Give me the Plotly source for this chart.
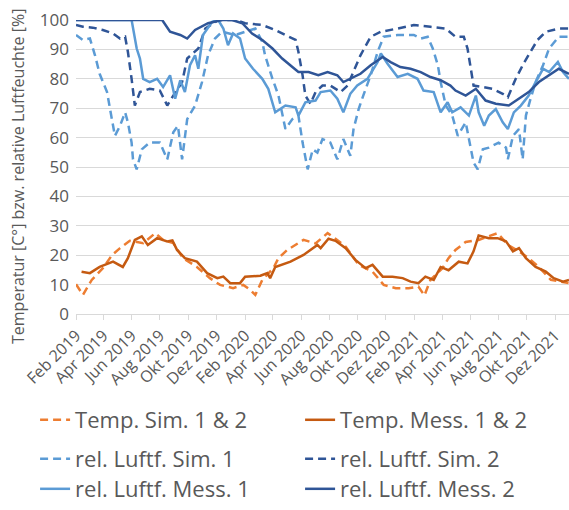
import plotly.graph_objects as go

# ---------------- data ----------------
temp_mess_dates = ["2019-02-13","2019-03-03","2019-03-24","2019-04-22","2019-05-13","2019-05-24","2019-06-08","2019-06-23",
    "2019-07-06","2019-07-26","2019-08-17","2019-08-28","2019-09-07","2019-09-24","2019-10-20","2019-11-11","2019-12-03",
    "2019-12-16","2019-12-31","2020-01-21","2020-02-01","2020-03-05","2020-03-20","2020-03-26","2020-04-06","2020-05-09",
    "2020-06-06","2020-07-06","2020-07-13","2020-07-30","2020-08-14","2020-09-05","2020-09-26","2020-10-18","2020-11-02",
    "2020-11-24","2020-12-15","2021-01-06","2021-01-23","2021-02-09","2021-02-24","2021-03-14","2021-03-29","2021-04-15",
    "2021-05-07","2021-05-26","2021-06-08","2021-06-19","2021-07-11","2021-07-30","2021-08-17","2021-09-01","2021-09-14",
    "2021-09-29","2021-10-20","2021-11-11","2021-11-28","2021-12-18","2021-12-31"]
temp_mess = [14.4,13.9,16.0,17.8,16.0,19.0,25.2,26.4,23.5,25.8,24.7,25.0,21.8,19.0,17.8,13.9,12.2,12.7,10.5,10.5,12.7,13.0,
    13.9,12.2,16.0,17.8,20.1,23.5,22.4,25.6,24.9,22.4,18.4,15.6,16.7,12.7,12.7,12.2,11.0,10.5,12.7,11.6,16.0,14.9,17.8,
    17.2,21.3,26.7,25.8,25.8,24.7,21.3,22.4,19.0,16.0,14.4,12.2,11.0,11.6]

temp_sim_dates = ["2019-02-01","2019-02-16","2019-03-07","2019-03-31","2019-04-20","2019-05-07","2019-05-28","2019-06-26",
    "2019-07-22","2019-08-08","2019-08-30","2019-09-20","2019-10-20","2019-11-17","2019-12-09","2020-01-06","2020-01-28",
    "2020-02-12","2020-02-23","2020-03-09","2020-04-02","2020-04-13","2020-05-02","2020-06-06","2020-07-02","2020-07-28",
    "2020-08-14","2020-09-05","2020-10-03","2020-11-02","2020-11-26","2020-12-22","2021-01-19","2021-02-09","2021-02-22",
    "2021-03-07","2021-04-02","2021-04-15","2021-04-30","2021-05-22","2021-06-19","2021-07-11","2021-07-30","2021-08-21",
    "2021-09-14","2021-10-05","2021-10-27","2021-11-22","2021-12-14","2021-12-30"]
temp_sim = [10.1,6.5,11.6,15.6,20.1,22.4,24.9,24.1,27.5,25.2,24.1,19.0,16.0,12.2,9.9,8.8,9.9,8.2,6.5,11.6,15.6,19.0,21.8,
    25.2,24.0,27.5,25.6,22.9,16.7,14.4,9.9,8.8,8.8,9.3,6.3,11.6,15.6,19.0,21.8,24.5,25.2,26.4,27.5,23.5,21.3,19.0,16.0,
    11.6,11.0,10.5]

rh_sim1_dates = ["2019-02-01","2019-02-16","2019-03-03","2019-03-14","2019-03-24","2019-04-09","2019-04-18","2019-04-26",
    "2019-05-07","2019-05-18","2019-05-24","2019-06-01","2019-06-04","2019-06-12","2019-06-23","2019-07-10","2019-08-01",
    "2019-08-17","2019-08-30","2019-09-09","2019-09-18","2019-09-29","2019-10-16","2019-10-31","2019-11-13","2019-11-28",
    "2019-12-13","2020-01-11","2020-02-01","2020-02-23","2020-03-09","2020-03-15","2020-03-31","2020-04-13","2020-04-28",
    "2020-05-13","2020-05-26","2020-06-04","2020-06-15","2020-06-26","2020-07-06","2020-07-17","2020-08-03","2020-08-18",
    "2020-08-31","2020-09-15","2020-09-22","2020-10-03","2020-10-13","2020-10-29","2020-11-13","2020-11-26","2020-12-26",
    "2021-01-30","2021-02-14","2021-03-01","2021-03-12","2021-03-23","2021-03-29","2021-04-09","2021-04-23","2021-05-05",
    "2021-05-22","2021-06-02","2021-06-08","2021-06-17","2021-06-28","2021-07-11","2021-08-01","2021-08-17","2021-08-21",
    "2021-09-01","2021-09-14","2021-09-22","2021-09-29","2021-10-09","2021-10-20","2021-11-05","2021-11-18","2021-12-09",
    "2021-12-31"]
rh_sim1 = [94.9,93.2,93.7,88.0,81.7,75.5,67.5,60.6,64.0,68.6,65.2,58.3,52.6,49.2,56.0,58.3,58.3,52.6,61.8,64.0,52.6,66.3,
    70.9,78.9,88.0,93.7,96.0,94.9,96.0,97.1,92.6,88.0,80.0,74.3,62.9,66.3,67.5,58.3,49.2,56.0,54.9,59.5,58.3,52.6,59.5,
    53.8,62.9,69.7,74.3,81.2,89.2,94.3,94.9,94.9,93.7,94.3,90.3,84.6,78.9,70.9,67.5,60.6,65.2,56.0,51.5,49.2,56.0,56.6,
    58.3,56.6,52.6,60.6,62.9,52.6,67.5,73.2,78.9,84.6,90.3,94.3,94.3]

rh_sim2_dates = ["2019-02-01","2019-02-16","2019-03-09","2019-03-31","2019-04-22","2019-05-07","2019-05-18","2019-05-24",
    "2019-06-01","2019-06-08","2019-06-19","2019-07-10","2019-08-01","2019-08-17","2019-08-30","2019-09-18","2019-09-29",
    "2019-10-12","2019-10-23","2019-11-07","2019-12-05","2020-01-11","2020-02-01","2020-03-09","2020-04-06","2020-05-05",
    "2020-05-20","2020-05-26","2020-06-04","2020-06-10","2020-06-21","2020-07-02","2020-07-17","2020-08-03","2020-08-25",
    "2020-09-09","2020-09-22","2020-10-07","2020-10-29","2020-11-20","2020-12-26","2021-01-30","2021-03-07","2021-04-09",
    "2021-04-30","2021-05-18","2021-05-26","2021-06-02","2021-06-08","2021-06-28","2021-07-19","2021-08-10","2021-08-21",
    "2021-09-07","2021-09-24","2021-10-09","2021-10-24","2021-11-11","2021-12-09","2021-12-31"]
rh_sim2 = [98.3,97.7,97.4,96.6,95.4,93.7,94.3,89.2,80.0,70.9,75.5,76.6,76.0,70.9,74.3,78.9,86.9,88.6,90.3,97.1,100,100,
    98.9,98.3,96.6,94.3,93.2,89.2,81.2,74.3,71.5,75.5,77.7,77.7,75.5,77.7,82.3,88.0,94.3,96.0,97.1,98.3,97.7,97.1,94.3,
    94.3,90.3,83.4,77.7,77.2,76.6,74.9,73.7,80.0,85.2,89.2,93.2,96.0,97.1,97.1]

rh_mess1_dates = ["2019-02-01","2019-06-01","2019-06-12","2019-06-19","2019-06-26","2019-07-10","2019-07-26","2019-08-08",
    "2019-08-23","2019-09-03","2019-09-14","2019-09-24","2019-10-05","2019-10-16","2019-10-23","2019-11-02","2019-11-22",
    "2019-12-05","2019-12-16","2019-12-26","2020-01-06","2020-01-21","2020-02-01","2020-02-18","2020-03-09","2020-03-22",
    "2020-04-06","2020-04-28","2020-05-20","2020-05-26","2020-06-10","2020-07-02","2020-07-13","2020-08-03","2020-08-18",
    "2020-08-31","2020-09-15","2020-09-30","2020-10-22","2020-11-13","2020-11-20","2020-12-04","2020-12-26","2021-01-17",
    "2021-02-07","2021-02-20","2021-03-14","2021-03-29","2021-04-13","2021-04-23","2021-05-11","2021-05-29","2021-06-13",
    "2021-06-19","2021-07-01","2021-07-11","2021-07-26","2021-08-10","2021-08-21","2021-09-03","2021-09-18","2021-10-05",
    "2021-10-20","2021-11-05","2021-11-18","2021-12-07","2021-12-18","2021-12-31"]
rh_mess1 = [100,100,90.3,86.9,80.0,78.9,80.0,77.2,81.2,73.2,79.5,75.5,84.6,88.0,83.4,94.9,99.4,100,97.1,91.4,95.4,93.7,
    86.9,83.4,80.0,76.6,68.6,70.9,70.3,67.5,72.0,72.6,75.5,76.0,73.2,68.6,74.9,77.7,80.0,85.7,88.6,85.2,80.6,81.7,80.0,
    76.0,75.5,68.6,72.0,68.6,70.3,67.5,74.3,68.6,64.0,67.5,69.7,65.2,62.9,68.6,70.9,74.3,78.9,83.4,82.3,85.7,82.3,80.0]

rh_mess2_dates = ["2019-02-01","2019-08-06","2019-08-23","2019-09-14","2019-09-29","2019-10-16","2019-11-13","2019-12-13",
    "2020-01-04","2020-01-26","2020-02-16","2020-03-09","2020-03-31","2020-04-21","2020-05-13","2020-05-26","2020-06-17",
    "2020-07-08","2020-07-28","2020-08-18","2020-08-31","2020-09-15","2020-10-07","2020-10-29","2020-11-24","2020-12-11",
    "2021-01-01","2021-01-23","2021-02-14","2021-03-07","2021-03-29","2021-04-19","2021-04-30","2021-05-22","2021-06-13",
    "2021-07-04","2021-07-26","2021-08-23","2021-09-14","2021-10-05","2021-10-27","2021-11-18","2021-12-09","2021-12-31"]
rh_mess2 = [100,100,96.0,94.9,93.7,96.6,98.9,100,100,98.9,95.4,93.2,90.3,86.9,84.0,82.3,82.3,81.2,82.3,81.2,78.9,80.0,
    81.7,84.6,87.4,85.7,84.0,83.4,82.3,80.6,79.5,77.7,76.0,74.3,76.6,72.6,71.5,70.9,73.2,75.5,78.9,81.2,83.4,81.7]

tick_dates = ["2019-02-01","2019-04-01","2019-06-01","2019-08-01","2019-10-01","2019-12-01",
              "2020-02-01","2020-04-01","2020-06-01","2020-08-01","2020-10-01","2020-12-01",
              "2021-02-01","2021-04-01","2021-06-01","2021-08-01","2021-10-01","2021-12-01"]
tick_labels = ["Feb 2019","Apr 2019","Jun 2019","Aug 2019","Okt 2019","Dez 2019",
               "Feb 2020","Apr 2020","Jun 2020","Aug 2020","Okt 2020","Dez 2020",
               "Feb 2021","Apr 2021","Jun 2021","Aug 2021","Okt 2021","Dez 2021"]

# ---------------- figure ----------------
FONT = "Open Sans"
GREY = "#595959"
DASH = "8px,5px"
LW = 2.5

series = [
    ("Temp. Sim. 1 & 2", temp_sim_dates, temp_sim, "#ED7D31", DASH, "legend"),
    ("Temp. Mess. 1 & 2", temp_mess_dates, temp_mess, "#C55A11", "solid", "legend"),
    ("rel. Luftf. Sim. 1", rh_sim1_dates, rh_sim1, "#5B9BD5", DASH, "legend2"),
    ("rel. Luftf. Sim. 2", rh_sim2_dates, rh_sim2, "#2F5597", DASH, "legend2"),
    ("rel. Luftf. Mess. 1", rh_mess1_dates, rh_mess1, "#5B9BD5", "solid", "legend3"),
    ("rel. Luftf. Mess. 2", rh_mess2_dates, rh_mess2, "#2F5597", "solid", "legend3"),
]

fig = go.Figure()
for name, xs, ys, col, dash, lg in series:
    fig.add_trace(go.Scatter(x=xs, y=ys, name=name, mode="lines",
                             line=dict(color=col, width=LW, dash=dash), legend=lg))

leg_common = dict(orientation="h", xanchor="left", x=-0.083,
                  font=dict(family=FONT, size=22, color=GREY),
                  entrywidth=220, entrywidthmode="pixels", bgcolor="rgba(0,0,0,0)")

fig.update_layout(
    width=569, height=510,
    margin=dict(l=76, r=0, t=20, b=196, autoexpand=False),
    paper_bgcolor="white", plot_bgcolor="white",
    font=dict(family=FONT, color=GREY),
    showlegend=True,
    legend=dict(y=-0.3605, yanchor="middle", **leg_common),
    legend2=dict(y=-0.493, yanchor="middle", **leg_common),
    legend3=dict(y=-0.6667, yanchor="bottom", **leg_common),
    xaxis=dict(type="date", range=["2019-02-01", "2021-12-31"], tickvals=tick_dates, ticktext=tick_labels,
               tickangle=-45, tickfont=dict(family=FONT, size=16, color=GREY), automargin=False,
               showgrid=False, showline=True, linecolor="#d9d9d9", linewidth=1,
               ticks="outside", ticklen=5, tickcolor="#d9d9d9", zeroline=False),
    yaxis=dict(range=[0, 100], dtick=10, showgrid=True, gridcolor="#d9d9d9", gridwidth=1, automargin=False,
               zeroline=False, showline=False, tickfont=dict(family=FONT, size=17, color=GREY),
               ticklabelstandoff=6),
    annotations=[dict(text="Temperatur [C°] bzw. relative Luftfeuchte [%]", textangle=-90,
                      xref="paper", yref="paper", x=(18 - 76) / 493, y=(314 - 177) / 294,
                      xanchor="center", yanchor="middle", showarrow=False,
                      font=dict(family=FONT, size=16, color=GREY))],
)

fig.write_html("out.html")
